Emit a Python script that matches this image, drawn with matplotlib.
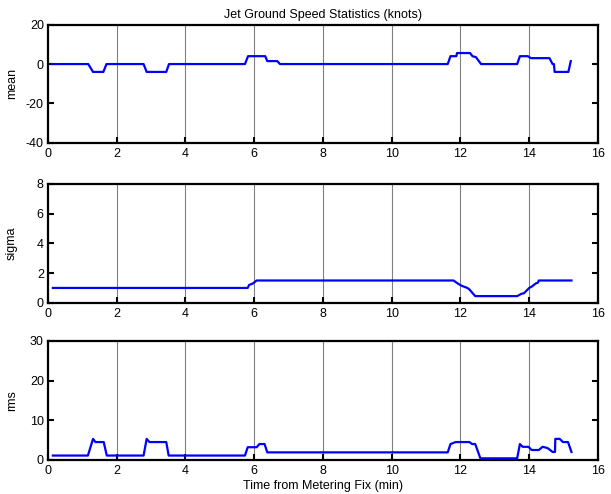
import numpy as np
import matplotlib
matplotlib.use('Agg')
import matplotlib.pyplot as plt

plt.rcParams['font.family'] = ['Liberation Sans', 'DejaVu Sans']
plt.rcParams['axes.unicode_minus'] = False

# mean ground speed (knots) vs time from metering fix (min)
t_mean = [0.11, 1.17, 1.31, 1.61, 1.70, 2.78, 2.87, 3.44, 3.52, 5.73, 5.82, 6.32,
          6.38, 6.67, 6.75, 11.63, 11.71, 11.88, 11.90, 12.28, 12.35, 12.45, 12.60,
          13.65, 13.73, 13.96, 14.05, 14.59, 14.68, 14.72, 14.74, 15.14, 15.21]
v_mean = [0, 0, -4, -4, 0, 0, -4, -4, 0, 0, 4, 4,
          1.5, 1.5, 0, 0, 4, 4, 5.6, 5.6, 4, 3.5, 0,
          0, 4, 4, 3, 3, 0, 0, -4, -4, 1.5]

# sigma
t_sig = [0.14, 5.81, 5.85, 5.96, 6.07, 11.80, 11.92, 12.03, 12.20, 12.26, 12.43,
         13.65, 13.77, 13.85, 14.00, 14.08, 14.19, 14.25, 14.28, 15.23]
v_sig = [1.0, 1.0, 1.2, 1.3, 1.5, 1.5, 1.3, 1.15, 1.0, 0.9, 0.45,
         0.45, 0.6, 0.65, 1.0, 1.1, 1.3, 1.35, 1.5, 1.5]

# rms
t_rms = [0.14, 1.16, 1.31, 1.38, 1.62, 1.71, 2.78, 2.87, 2.95, 3.44, 3.51,
         5.73, 5.81, 6.07, 6.15, 6.30, 6.38, 11.63, 11.71, 11.86, 12.26, 12.34,
         12.43, 12.58, 13.65, 13.73, 13.81, 13.98, 14.07, 14.28, 14.39, 14.53,
         14.61, 14.68, 14.75, 14.76, 14.89, 14.98, 15.13, 15.23]
v_rms = [1.1, 1.1, 5.3, 4.5, 4.5, 1.1, 1.1, 5.3, 4.5, 4.5, 1.1,
         1.1, 3.2, 3.2, 4.0, 4.0, 1.9, 1.9, 4.0, 4.5, 4.5, 4.0,
         4.0, 0.4, 0.4, 4.0, 3.3, 3.3, 2.5, 2.5, 3.3, 3.0,
         2.5, 2.0, 2.0, 5.3, 5.3, 4.5, 4.5, 2.0]

panels = [('mean', t_mean, v_mean, (-40, 20), [-40, -20, 0, 20]),
          ('sigma', t_sig, v_sig, (0, 8), [0, 2, 4, 6, 8]),
          ('rms', t_rms, v_rms, (0, 30), [0, 10, 20, 30])]

fig = plt.figure(figsize=(6.11, 4.94), dpi=100)
boxes = [[0.0786, 0.711, 0.900, 0.239],
         [0.0786, 0.387, 0.900, 0.241],
         [0.0786, 0.069, 0.900, 0.241]]

for (name, t, v, yl, yt), box in zip(panels, boxes):
    ax = fig.add_axes(box)
    for g in range(2, 16, 2):
        ax.axvline(g, color='#808080', lw=0.8, zorder=1)
    ax.plot(t, v, color='#0000ff', lw=1.6, zorder=3)
    ax.set_xlim(0, 16)
    ax.set_ylim(*yl)
    ax.set_xticks(np.arange(0, 17, 2))
    ax.set_yticks(yt)
    ax.set_ylabel(name, fontsize=9)
    ax.yaxis.set_label_coords(-0.055, 0.5)
    ax.tick_params(direction='in', length=4, width=1.5, labelsize=9,
                   left=True, right=True, top=False, bottom=True, pad=3)
    ax.tick_params(axis='x', pad=4)
    for s in ax.spines.values():
        s.set_linewidth(1.6)
    if name == 'mean':
        ax.set_title('Jet Ground Speed Statistics (knots)', fontsize=9, pad=5)
    if name == 'rms':
        ax.set_xlabel('Time from Metering Fix (min)', fontsize=9, labelpad=1.5)

fig.savefig('out.png', dpi=100)
